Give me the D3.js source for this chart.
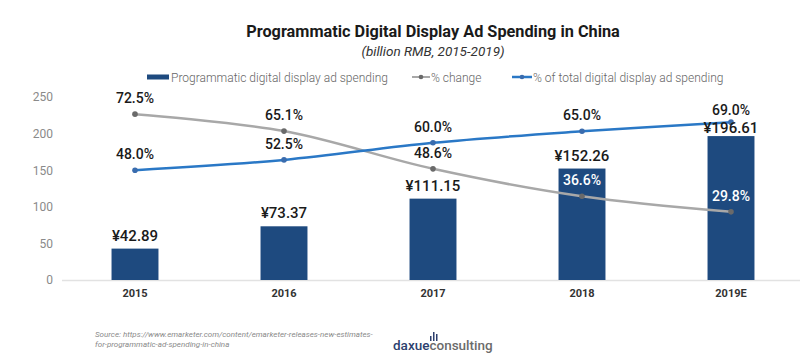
<!DOCTYPE html>
<html><head><meta charset="utf-8">
<script src="https://cdn.jsdelivr.net/npm/d3@7"></script>
<style>body{margin:0;background:#fff}svg{display:block}</style>
</head><body><svg id="c" width="800" height="358"></svg>
<script>
const years = ["2015","2016","2017","2018","2019E"];
const spending = [42.89, 73.37, 111.15, 152.26, 196.61];
const pctChange = [72.5, 65.1, 48.6, 36.6, 29.8];
const pctTotal = [48.0, 52.5, 60.0, 65.0, 69.0];
const yTicks = [0, 50, 100, 150, 200, 250];

const svg = d3.select("#c");
const FONT = "Roboto, 'Liberation Sans', Arial, sans-serif";
const barColor = "#1e4a7f", grayLine = "#a8a8a8", grayDot = "#6a6a6a", blueLine = "#2a78c6", blueDot = "#3a6cae";

const x = d3.scaleBand().domain(years).range([60.5, 805.5]).paddingInner(0.685).paddingOuter(0.3425);
const y = d3.scaleLinear().domain([0, 250]).range([280, 97]);
const y2 = d3.scaleLinear().domain([0, 80]).range([280, 97]);
const cx = d => x(d) + x.bandwidth() / 2;

// title
svg.append("text").attr("x", 433).attr("y", 37).attr("text-anchor", "middle")
  .attr("font-family", FONT).attr("font-weight", 700).attr("font-size", 16.3).attr("fill", "#1a1a1a")
  .text("Programmatic Digital Display Ad Spending in China");
svg.append("text").attr("x", 433).attr("y", 56).attr("text-anchor", "middle")
  .attr("font-family", FONT).attr("font-style", "italic").attr("font-size", 13.5).attr("fill", "#333")
  .text("(billion RMB, 2015-2019)");

// legend
const lg = svg.append("g").attr("font-family", FONT).attr("font-size", 12).attr("fill", "#666").attr("font-weight", 300);
lg.append("rect").attr("x", 147).attr("y", 74.5).attr("width", 22).attr("height", 5).attr("fill", barColor);
lg.append("text").attr("x", 171).attr("y", 81.5).text("Programmatic digital display ad spending");
lg.append("line").attr("x1", 412).attr("x2", 430).attr("y1", 77).attr("y2", 77).attr("stroke", grayLine).attr("stroke-width", 2);
lg.append("circle").attr("cx", 421).attr("cy", 77).attr("r", 2.3).attr("fill", grayDot);
lg.append("text").attr("x", 431).attr("y", 81.5).text("% change");
lg.append("line").attr("x1", 512).attr("x2", 532).attr("y1", 77).attr("y2", 77).attr("stroke", blueLine).attr("stroke-width", 2.5);
lg.append("circle").attr("cx", 522).attr("cy", 77).attr("r", 2.3).attr("fill", blueDot);
lg.append("text").attr("x", 533).attr("y", 81.5).text("% of total digital display ad spending");

// y axis
const ya = svg.append("g").attr("transform", "translate(53,0)")
  .call(d3.axisLeft(y).tickValues(yTicks).tickSize(0).tickPadding(0));
ya.select(".domain").remove();
ya.selectAll("text").attr("font-family", FONT).attr("font-size", 12).attr("fill", "#8a8a8a");

// x axis
const xa = svg.append("g").attr("transform", "translate(0,280)")
  .call(d3.axisBottom(x).tickSize(0).tickPadding(9));
xa.select(".domain").attr("stroke", "#e2e2e2").attr("stroke-width", 1.5).attr("d", "M62,0.5H800");
xa.selectAll("text").attr("font-family", FONT).attr("font-size", 11).attr("font-weight", 700).attr("fill", "#333");

// bars
svg.append("g").selectAll("rect").data(years).join("rect")
  .attr("x", d => x(d)).attr("width", x.bandwidth())
  .attr("y", (d, i) => y(spending[i])).attr("height", (d, i) => y(0) - y(spending[i]))
  .attr("fill", barColor);

// lines
function drawLine(vals, stroke, dot) {
  const line = d3.line().x((d, i) => cx(years[i])).y(d => y2(d)).curve(d3.curveCatmullRom.alpha(0.5));
  svg.append("path").datum(vals).attr("d", line).attr("fill", "none").attr("stroke", stroke).attr("stroke-width", 2.5);
  svg.append("g").selectAll("circle").data(vals).join("circle")
    .attr("cx", (d, i) => cx(years[i])).attr("cy", d => y2(d)).attr("r", 2.8).attr("fill", dot);
}
drawLine(pctChange, grayLine, grayDot);
drawLine(pctTotal, blueLine, blueDot);

// bar labels
svg.append("g").selectAll("text").data(spending).join("text")
  .attr("x", (d, i) => cx(years[i]))
  .attr("y", (d, i) => y(d) - (i === spending.length - 1 ? 3 : 8))
  .attr("text-anchor", "middle").attr("font-family", FONT).attr("font-size", 15).attr("font-weight", 500).attr("fill", "#1a1a1a")
  .text(d => "¥" + d.toFixed(2));

// pct labels
function pctLabels(vals) {
  svg.append("g").selectAll("text").data(vals).join("text")
    .attr("x", (d, i) => cx(years[i]))
    .attr("y", (d, i) => y2(d) - (i === vals.length - 1 && vals === pctTotal ? 7 : 11))
    .attr("text-anchor", "middle").attr("font-family", FONT).attr("font-size", 14).attr("font-weight", 500)
    .attr("fill", (d, i) => (y2(d) - 16 > y(spending[i]) ? "#fff" : "#1a1a1a"))
    .text(d => d.toFixed(1) + "%");
}
pctLabels(pctChange);
pctLabels(pctTotal);

// source
const src = svg.append("g").attr("font-family", FONT).attr("font-size", 8).attr("font-style", "italic").attr("fill", "#8a8a8a");
src.append("text").attr("x", 95).attr("y", 337).text("Source: https://www.emarketer.com/content/emarketer-releases-new-estimates-");
src.append("text").attr("x", 95).attr("y", 347).text("for-programmatic-ad-spending-in-china");

// logo
const logo = svg.append("g").attr("font-family", FONT).attr("font-size", 13.5).attr("font-weight", 500);
const lt = logo.append("text").attr("x", 393).attr("y", 350);
lt.append("tspan").attr("fill", "#2c3f6e").text("daxue");
lt.append("tspan").attr("fill", "#6b6b6b").text("consulting");
const icon = logo.append("g").attr("fill", "#2c3f6e");
[[430, 336, 5], [433, 332, 9], [436, 334, 7]].forEach(b => icon.append("rect").attr("x", b[0]).attr("y", b[1]).attr("width", 1.5).attr("height", b[2]));
</script></body></html>
